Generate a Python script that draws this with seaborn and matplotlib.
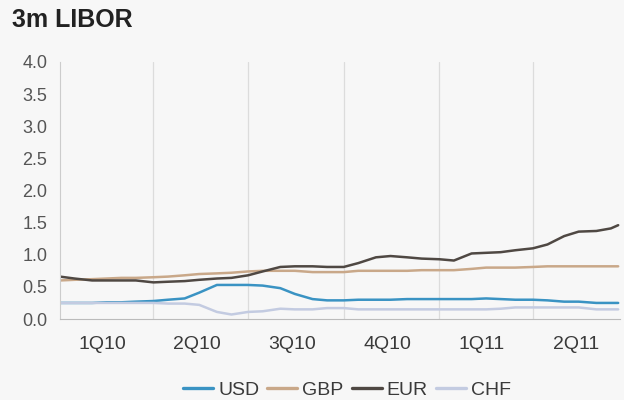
import numpy as np
import pandas as pd
import matplotlib.pyplot as plt
import seaborn as sns

sns.set_style("white")
plt.rcParams['font.family'] = ['Liberation Sans', 'DejaVu Sans']

# semi-monthly observation dates, Jan 2010 - Jun 2011
dates = list(pd.date_range("2010-01-01", "2011-06-15", freq="SMS")) + [pd.Timestamp("2011-06-22")]

usd = [0.25, 0.25, 0.25, 0.26, 0.26, 0.27, 0.28, 0.30, 0.32, 0.41, 0.53, 0.53, 0.53,
       0.52, 0.48, 0.39, 0.31, 0.29, 0.29, 0.30, 0.30, 0.30, 0.31, 0.31, 0.31, 0.31,
       0.31, 0.32, 0.31, 0.30, 0.30, 0.29, 0.27, 0.27, 0.25, 0.25, 0.25]
gbp = [0.60, 0.61, 0.62, 0.63, 0.64, 0.64, 0.65, 0.66, 0.68, 0.70, 0.71, 0.72, 0.74,
       0.75, 0.75, 0.75, 0.73, 0.73, 0.73, 0.75, 0.75, 0.75, 0.75, 0.76, 0.76, 0.76,
       0.78, 0.80, 0.80, 0.80, 0.81, 0.82, 0.82, 0.82, 0.82, 0.82, 0.82]
eur = [0.66, 0.63, 0.60, 0.60, 0.60, 0.60, 0.57, 0.58, 0.59, 0.61, 0.63, 0.64, 0.68,
       0.74, 0.81, 0.82, 0.82, 0.81, 0.81, 0.87, 0.96, 0.98, 0.96, 0.94, 0.93, 0.91,
       1.02, 1.03, 1.04, 1.07, 1.10, 1.16, 1.29, 1.36, 1.37, 1.41, 1.46]
chf = [0.25, 0.25, 0.25, 0.25, 0.25, 0.25, 0.25, 0.24, 0.24, 0.22, 0.11, 0.07, 0.11,
       0.12, 0.16, 0.15, 0.15, 0.17, 0.17, 0.15, 0.15, 0.15, 0.15, 0.15, 0.15, 0.15,
       0.15, 0.15, 0.16, 0.18, 0.18, 0.18, 0.18, 0.18, 0.15, 0.15, 0.15]

series = ["USD", "GBP", "EUR", "CHF"]
colors = ["#3a93c3", "#c9a889", "#4f4843", "#c3cbe1"]

q_labels = ["1Q10", "2Q10", "3Q10", "4Q10", "1Q11", "2Q11"]
q_mid = pd.to_datetime(["2010-02-11", "2010-05-13", "2010-08-12",
                        "2010-11-12", "2011-02-11", "2011-05-13"])
q_starts = pd.to_datetime(["2010-04-01", "2010-07-01", "2010-10-01",
                           "2011-01-01", "2011-04-01"])

df = pd.DataFrame({"date": dates, "USD": usd, "GBP": gbp, "EUR": eur, "CHF": chf})
long = df.melt(id_vars="date", var_name="ccy", value_name="rate")

bg = "#f7f7f7"
fig = plt.figure(figsize=(6.24, 4.0), dpi=100, facecolor=bg)
ax = fig.add_axes([0.096, 0.2025, 0.898, 0.6425], facecolor=bg)

sns.lineplot(data=long, x="date", y="rate", hue="ccy", hue_order=series,
             palette=dict(zip(series, colors)), linewidth=1.8, ax=ax)

ax.set_xlim(pd.Timestamp("2010-01-01"), pd.Timestamp("2011-06-24"))
ax.set_ylim(0, 4)
ax.set_yticks(np.arange(0, 4.01, 0.5))
ax.yaxis.set_major_formatter(plt.FormatStrFormatter("%.1f"))

# quarter boundaries as gridlines, labels in the middle of each quarter
ax.set_xticks(q_starts)
ax.set_xticklabels([])
ax.tick_params(axis="x", which="major", length=0)
ax.grid(axis="x", which="major", color="#dcdcdc", linewidth=0.9)
ax.set_xticks(q_mid, minor=True)
ax.set_xticklabels(q_labels, minor=True)
ax.tick_params(axis="x", which="minor", length=0, pad=12.5, labelsize=14, labelcolor="#3a3a3a")
ax.tick_params(axis="y", length=4, width=0.8, color="#aaaaaa", labelsize=13,
               labelcolor="#555555", pad=5)

for s in ["top", "right"]:
    ax.spines[s].set_visible(False)
ax.spines["left"].set_color("#cccccc")
ax.spines["bottom"].set_color("#bbbbbb")
ax.set_xlabel("")
ax.set_ylabel("")

handles, labels = ax.get_legend_handles_labels()
ax.get_legend().remove()
leg = fig.legend(handles, labels, loc="center", bbox_to_anchor=(0.556, 0.025), ncol=4,
                 frameon=False, fontsize=14, handlelength=1.55, handletextpad=0.26,
                 columnspacing=0.41, labelcolor="#3a3a3a")
for line in leg.get_lines():
    line.set_linewidth(2.4)

fig.text(0.019, 0.932, "3m LIBOR", fontsize=18, fontweight="bold", color="#222222",
         va="baseline")

fig.savefig("out.png", dpi=100, facecolor=bg)
